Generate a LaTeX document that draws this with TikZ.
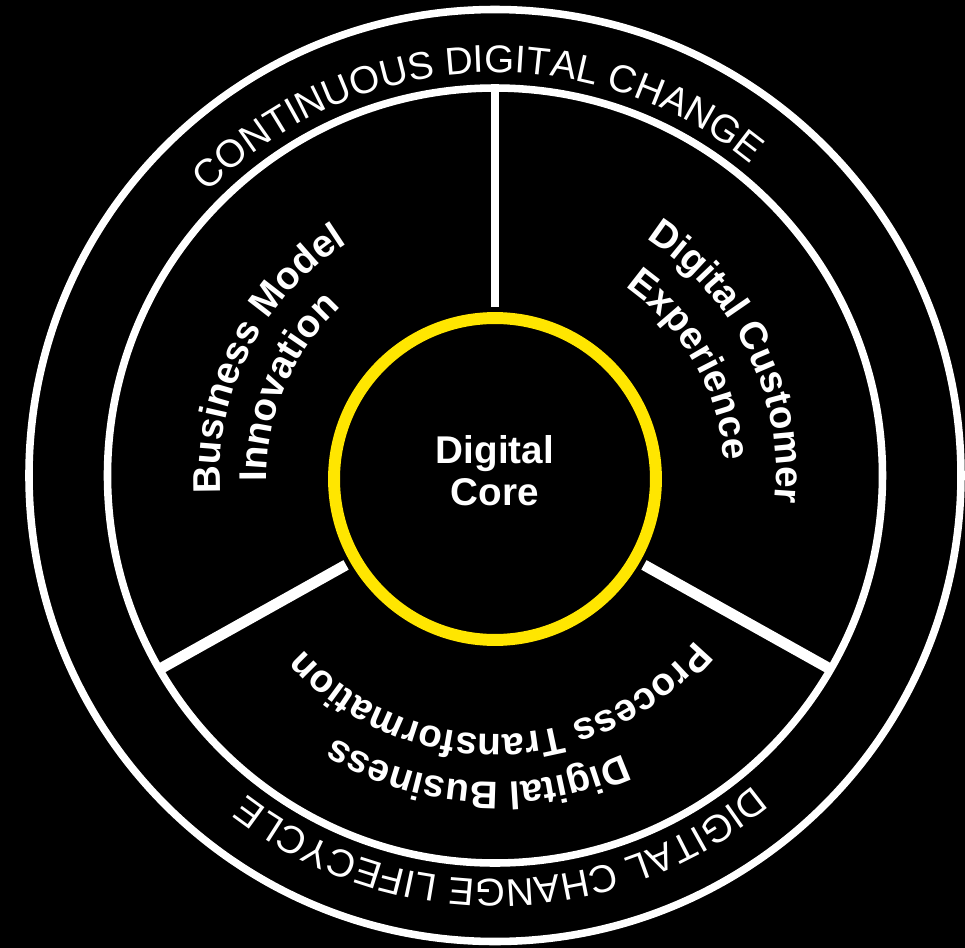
\documentclass[tikz,border=0pt]{standalone}
\usepackage{fontspec}
\setmainfont{Liberation Sans}
\usetikzlibrary{decorations.text}

\definecolor{coreyellow}{RGB}{255,230,0}
\newcommand{\ringfont}{\fontsize{22}{27}\selectfont}
\newcommand{\sectorfont}{\fontsize{22}{26}\selectfont\bfseries}

\tikzset{
  ring/.style={draw=white, line width=4.3pt},
  divider/.style={draw=white, line width=#1, shorten <=0.1cm},
  core/.style={circle, draw=coreyellow, line width=6.8pt, fill=black,
    minimum size=6.44cm, inner sep=0pt},
  corelabel/.style={text=white, align=center, inner sep=0pt,
    font=\fontsize{22}{24}\selectfont\bfseries},
  ringtext/.style={decorate, decoration={text along path, text align=center,
    text color=white, text={|\ringfont\color{white}|#1}}},
  sectortext/.style={decorate, decoration={text along path, text align=center,
    text color=white, text={|\sectorfont\color{white}|#1}}}
}

\begin{document}
\begin{tikzpicture}[x=0.02cm, y=0.02cm]
\fill[black] (-495,-472.5) rectangle (470,475.5);
\useasboundingbox (-495,-472.5) rectangle (470,475.5);

\draw[ring] (0,0) circle[radius=466];
\draw[ring] (0,0) circle[radius=387.5];

\coordinate (ringtop) at (90:387.5);
\coordinate (ringleft) at (210:387.5);
\coordinate (ringright) at (-30:387.5);

\node[core] (core) at (0,-3.5) {};
\node[corelabel] (corelabel) at (0,4.5) {Digital\\Core};

\draw[divider=4.7pt] (core.90) -- (ringtop);
\draw[divider=6.2pt] (core.210) -- (ringleft);
\draw[divider=6.2pt] (core.-30) -- (ringright);

% outer ring
\path[ringtext={CONTINUOUS DIGITAL CHANGE}] (163:403) arc[start angle=163, end angle=23, radius=403];
\path[ringtext={DIGITAL CHANGE LIFECYCLE}] (-19:404) arc[start angle=-19, end angle=-159, radius=404];

% sectors
\path[sectortext={Business Model}] (213:275) arc[start angle=213, end angle=93, radius=275];
\path[sectortext={Innovation}] (217:228) arc[start angle=217, end angle=97, radius=228];
\path[sectortext={Digital Customer}] (86:281) arc[start angle=86, end angle=-34, radius=281];
\path[sectortext={Experience}] (89.5:229) arc[start angle=89.5, end angle=-30.5, radius=229];
\path[sectortext={Digital Business}] (-33.4:307) arc[start angle=-33.4, end angle=-153.4, radius=307];
\path[sectortext={Process Transformation}] (-28.7:259) arc[start angle=-28.7, end angle=-148.7, radius=259];
\end{tikzpicture}
\end{document}
